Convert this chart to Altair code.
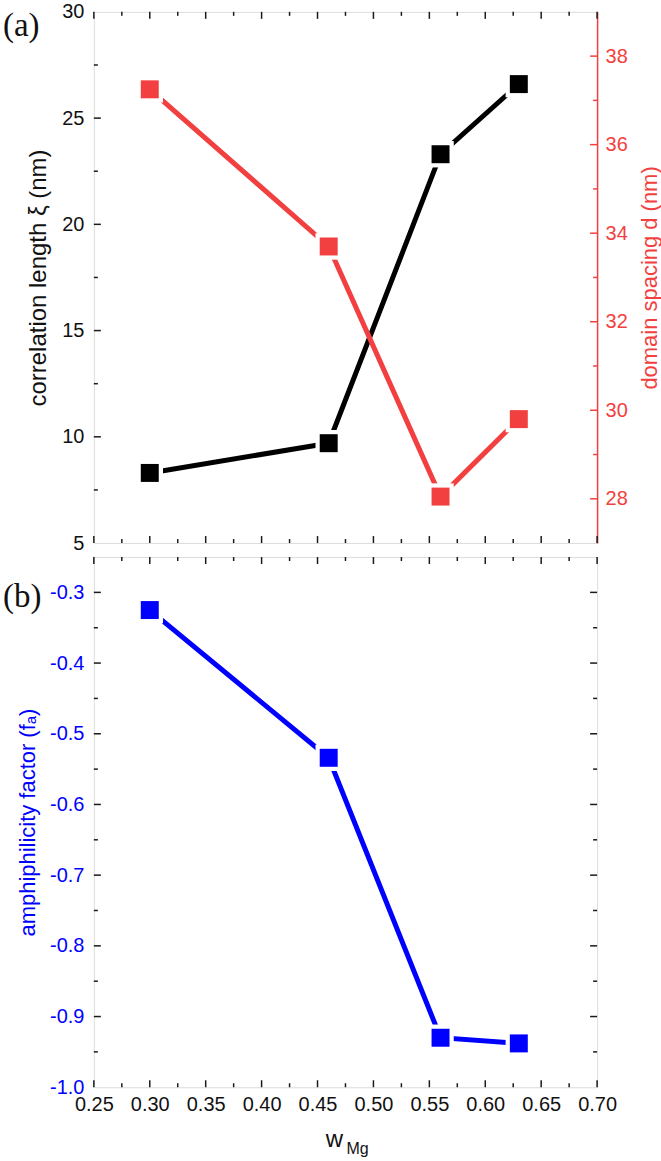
import altair as alt
import pandas as pd

# ---- data ----
w_mg = [0.30, 0.46, 0.56, 0.63]
corr_len = [8.3, 9.7, 23.3, 26.6]
dom_spacing = [37.25, 33.7, 28.05, 29.8]
amph = [-0.325, -0.534, -0.930, -0.938]

x_major = [0.25, 0.30, 0.35, 0.40, 0.45, 0.50, 0.55, 0.60, 0.65, 0.70]
x_minor = [0.275, 0.325, 0.375, 0.425, 0.475, 0.525, 0.575, 0.625, 0.675]
xi_major = [5, 10, 15, 20, 25, 30]
xi_minor = [7.5, 12.5, 17.5, 22.5, 27.5]
d_major = [28, 30, 32, 34, 36, 38]
d_minor = [29, 31, 33, 35, 37]
fa_major = [-1.0, -0.9, -0.8, -0.7, -0.6, -0.5, -0.4, -0.3]
fa_minor = [-0.95, -0.85, -0.75, -0.65, -0.55, -0.45, -0.35]

RED = "#F24040"
BLUE = "#0000FF"
BLACK = "#000000"
FRAME = "#1a1a1a"
SANS = "Liberation Sans"
SERIF = "Liberation Serif"

W = 504
H1 = 532
H2 = 531
MAJ = 7
MIN = 4

df_top = pd.DataFrame({"w": w_mg, "xi": corr_len, "d": dom_spacing})
df_bot = pd.DataFrame({"w": w_mg, "fa": amph})

XS = alt.Scale(domain=[0.25, 0.70], nice=False, zero=False)

x_axis_bottom = alt.Axis(
    values=x_major, format=".2f", title=None, ticks=False, domain=False,
    grid=False, labelFontSize=20, labelFont=SANS, labelColor="#111",
    labelPadding=7, labelFlush=False, labelOverlap=False,
)


def X(field, axis):
    return alt.X(f"{field}:Q", scale=XS, axis=axis)


def ticks_x(vals, length, H, axis):
    d = pd.DataFrame({"t": vals})
    top = alt.Chart(d).mark_rule(color=FRAME, strokeWidth=1.5).encode(
        x=X("t", axis), y=alt.value(0), y2=alt.value(length))
    bot = alt.Chart(d).mark_rule(color=FRAME, strokeWidth=1.5).encode(
        x=X("t", axis), y=alt.value(H), y2=alt.value(H - length))
    return [top, bot]


# ---------------- top panel ----------------
YS_XI = alt.Scale(domain=[5, 30], nice=False, zero=False)
y_xi_axis = alt.Axis(
    values=xi_major, title="correlation length ξ (nm)", ticks=False, domain=False,
    grid=False, labelFontSize=20, labelFont=SANS, labelColor="#111",
    titleFontSize=24, titleFont=SANS, titleFontWeight="normal", titleColor="#111",
    labelPadding=10, titlePadding=11, labelFlush=False, labelOverlap=False,
)


def YXI(field):
    return alt.Y(f"{field}:Q", scale=YS_XI, axis=y_xi_axis)


YS_D = alt.Scale(domain=[27, 39], nice=False, zero=False)
y_d_axis = alt.Axis(
    orient="right", values=d_major, title="domain spacing d (nm)", ticks=False,
    domain=True, domainColor=RED, domainWidth=1.5, grid=False,
    labelFontSize=20, labelFont=SANS, labelColor=RED,
    titleFontSize=22, titleFont=SANS, titleFontWeight="normal", titleColor=RED,
    titleAngle=270, titleBaseline="top", labelPadding=8, titlePadding=12,
    labelFlush=False, labelOverlap=False,
)


def YD(field):
    return alt.Y(f"{field}:Q", scale=YS_D, axis=y_d_axis)


base_top = alt.Chart(df_top)

black_line = base_top.mark_line(color=BLACK, strokeWidth=5).encode(
    x=X("w", None), y=YXI("xi"))
black_halo = base_top.mark_square(color="white", size=700, opacity=1).encode(
    x=X("w", None), y=YXI("xi"))
black_pts = base_top.mark_square(color=BLACK, size=324, opacity=1).encode(
    x=X("w", None), y=YXI("xi"))

xi_maj_df = pd.DataFrame({"t": xi_major[1:-1]})
xi_min_df = pd.DataFrame({"t": xi_minor})
left_ticks_maj = alt.Chart(xi_maj_df).mark_rule(color=FRAME, strokeWidth=1.5).encode(
    y=YXI("t"), x=alt.value(0), x2=alt.value(MAJ))
left_ticks_min = alt.Chart(xi_min_df).mark_rule(color=FRAME, strokeWidth=1.5).encode(
    y=YXI("t"), x=alt.value(0), x2=alt.value(MIN))

label_a = alt.Chart(pd.DataFrame({"s": ["(a)"]})).mark_text(
    font=SERIF, fontSize=33, align="left", baseline="middle", color="#111"
).encode(text="s:N", x=alt.value(-91), y=alt.value(14))

left_group = alt.layer(
    *ticks_x(x_major, MAJ, H1, None), *ticks_x(x_minor, MIN, H1, None),
    left_ticks_maj, left_ticks_min,
    black_line, black_halo, black_pts, label_a,
)

red_line = base_top.mark_line(color=RED, strokeWidth=5).encode(
    x=X("w", None), y=YD("d"))
red_halo = base_top.mark_square(color="white", size=700, opacity=1).encode(
    x=X("w", None), y=YD("d"))
red_pts = base_top.mark_square(color=RED, size=324, opacity=1).encode(
    x=X("w", None), y=YD("d"))

d_maj_df = pd.DataFrame({"t": d_major})
d_min_df = pd.DataFrame({"t": d_minor})
right_ticks_maj = alt.Chart(d_maj_df).mark_rule(color=RED, strokeWidth=1.5).encode(
    y=YD("t"), x=alt.value(W), x2=alt.value(W - MAJ))
right_ticks_min = alt.Chart(d_min_df).mark_rule(color=RED, strokeWidth=1.5).encode(
    y=YD("t"), x=alt.value(W), x2=alt.value(W - MIN))

right_group = alt.layer(right_ticks_maj, right_ticks_min, red_line, red_halo, red_pts)

top = alt.layer(left_group, right_group).resolve_scale(y="independent").properties(
    width=W, height=H1)

# ---------------- bottom panel ----------------
YS_FA = alt.Scale(domain=[-1.0, -0.25], nice=False, zero=False)
y_fa_axis = alt.Axis(
    values=fa_major, title="amphiphilicity factor (fₐ)", ticks=False, domain=False,
    grid=False, labelFontSize=20, labelFont=SANS, labelColor=BLUE,
    labelExpr="replace(format(datum.value, '.1f'), '\u2212', '-')",
    titleFontSize=22, titleFont=SANS, titleFontWeight="normal", titleColor=BLUE,
    labelPadding=10, titlePadding=10, labelFlush=False, labelOverlap=False,
)


def YFA(field):
    return alt.Y(f"{field}:Q", scale=YS_FA, axis=y_fa_axis)


base_bot = alt.Chart(df_bot)
blue_line = base_bot.mark_line(color=BLUE, strokeWidth=5).encode(
    x=X("w", x_axis_bottom), y=YFA("fa"))
blue_halo = base_bot.mark_square(color="white", size=700, opacity=1).encode(
    x=X("w", x_axis_bottom), y=YFA("fa"))
blue_pts = base_bot.mark_square(color=BLUE, size=324, opacity=1).encode(
    x=X("w", x_axis_bottom), y=YFA("fa"))

fa_maj_df = pd.DataFrame({"t": fa_major[1:]})
fa_min_df = pd.DataFrame({"t": fa_minor})
fa_ticks = []
for dfv, ln in ((fa_maj_df, MAJ), (fa_min_df, MIN)):
    fa_ticks.append(alt.Chart(dfv).mark_rule(color=FRAME, strokeWidth=1.5).encode(
        y=YFA("t"), x=alt.value(0), x2=alt.value(ln)))
    fa_ticks.append(alt.Chart(dfv).mark_rule(color=FRAME, strokeWidth=1.5).encode(
        y=YFA("t"), x=alt.value(W), x2=alt.value(W - ln)))

label_b = alt.Chart(pd.DataFrame({"s": ["(b)"]})).mark_text(
    font=SERIF, fontSize=33, align="left", baseline="middle", color="#111"
).encode(text="s:N", x=alt.value(-91), y=alt.value(40))

xt_w = alt.Chart(pd.DataFrame({"s": ["w"]})).mark_text(
    font=SANS, fontSize=24, align="center", baseline="middle", color="#111"
).encode(text="s:N", x=alt.value(241), y=alt.value(H2 + 53))
xt_mg = alt.Chart(pd.DataFrame({"s": ["Mg"]})).mark_text(
    font=SANS, fontSize=16, align="left", baseline="middle", color="#111"
).encode(text="s:N", x=alt.value(253), y=alt.value(H2 + 62))

bottom = alt.layer(
    *ticks_x(x_major, MAJ, H2, x_axis_bottom), *ticks_x(x_minor, MIN, H2, x_axis_bottom),
    *fa_ticks, blue_line, blue_halo, blue_pts, label_b, xt_w, xt_mg,
).properties(width=W, height=H2)

chart = alt.vconcat(top, bottom, spacing=14, bounds="flush").properties(
    padding={"left": 2, "top": 0, "right": 0, "bottom": 0}
).configure_view(stroke=FRAME, strokeWidth=1.5).configure(background="white")

chart.save("out.html", embed_options={"renderer": "svg", "actions": False})
